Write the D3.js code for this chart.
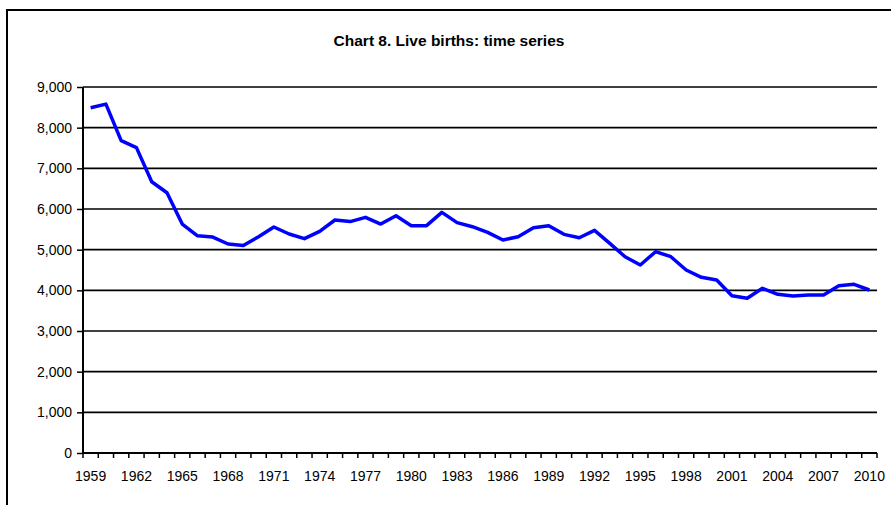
<!DOCTYPE html>
<html>
<head>
<meta charset="utf-8">
<script src="https://cdn.jsdelivr.net/npm/d3@7"></script>
<style>
html,body{margin:0;padding:0;background:#fff;overflow:hidden;}
svg{display:block;}
text{font-family:"Liberation Sans",Arial,sans-serif;fill:#000;}
</style>
</head>
<body>
<svg id="chart" width="891" height="505"></svg>
<script>
const title = "Chart 8. Live births: time series";
const years = [1959,1960,1961,1962,1963,1964,1965,1966,1967,1968,1969,1970,1971,1972,1973,1974,1975,1976,1977,1978,1979,1980,1981,1982,1983,1984,1985,1986,1987,1988,1989,1990,1991,1992,1993,1994,1995,1996,1997,1998,1999,2000,2001,2002,2003,2004,2005,2006,2007,2008,2009,2010];
const births = [8490,8580,7680,7510,6670,6400,5630,5340,5310,5140,5100,5320,5557,5385,5270,5450,5729,5690,5795,5630,5835,5590,5590,5918,5664,5565,5426,5237,5319,5540,5589,5377,5294,5475,5156,4827,4623,4950,4827,4500,4320,4254,3868,3804,4050,3902,3861,3885,3885,4114,4148,4008];
const yTicks = [0,1000,2000,3000,4000,5000,6000,7000,8000,9000];
const xLabelYears = [1959,1962,1965,1968,1971,1974,1977,1980,1983,1986,1989,1992,1995,1998,2001,2004,2007,2010];

const svg = d3.select("#chart");
const m = {left:83, right:877, top:87, bottom:453};

// outer chart border (extends past right and bottom edges)
svg.append("path").attr("d","M7,505V10H891")
  .attr("fill","none").attr("stroke","#000").attr("stroke-width",2);

svg.append("text").attr("x",449).attr("y",46).attr("text-anchor","middle")
  .style("font-size","15.5px").style("font-weight","bold").text(title);

const x = d3.scaleBand().domain(years).range([m.left,m.right]).paddingInner(0).paddingOuter(0);
const y = d3.scaleLinear().domain([0,9000]).range([m.bottom,m.top]);

// gridlines
svg.append("g").selectAll("line").data(yTicks.filter(d=>d>0)).join("line")
  .attr("x1",m.left).attr("x2",m.right)
  .attr("y1",d=>y(d)).attr("y2",d=>y(d))
  .attr("stroke","#000").attr("stroke-width",1.6);

// y axis
const yAxis = svg.append("g").attr("transform",`translate(${m.left},0)`)
  .call(d3.axisLeft(y).tickValues(yTicks).tickFormat(d3.format(",")).tickSize(6).tickPadding(5));
yAxis.select(".domain").attr("stroke","#000").attr("stroke-width",2).attr("d",`M0,${m.top}V${m.bottom}`);
yAxis.selectAll(".tick line").attr("stroke","#000").attr("stroke-width",1.5);
yAxis.selectAll(".tick text").style("font-size","14px").style("font-family","'Liberation Sans',Arial,sans-serif");

// x axis: ticks at band boundaries, labels at band centers
const xg = svg.append("g");
xg.append("line").attr("x1",m.left).attr("x2",m.right).attr("y1",m.bottom).attr("y2",m.bottom)
  .attr("stroke","#000").attr("stroke-width",2);
const bounds = years.map(d=>x(d)).concat([x(years[years.length-1])+x.bandwidth()]);
xg.selectAll("line.tk").data(bounds).join("line").attr("class","tk")
  .attr("x1",d=>d).attr("x2",d=>d).attr("y1",m.bottom).attr("y2",m.bottom+5)
  .attr("stroke","#000").attr("stroke-width",1.5);
xg.selectAll("text").data(xLabelYears).join("text")
  .attr("x",d=>x(d)+x.bandwidth()/2).attr("y",481).attr("text-anchor","middle")
  .style("font-size","14px").text(d=>d);

// line
const line = d3.line().x((d,i)=>x(years[i])+x.bandwidth()/2).y(d=>y(d));
svg.append("path").datum(births).attr("d",line).attr("fill","none")
  .attr("stroke","#0000FF").attr("stroke-width",3.5).attr("stroke-linejoin","round");
</script>
</body>
</html>
